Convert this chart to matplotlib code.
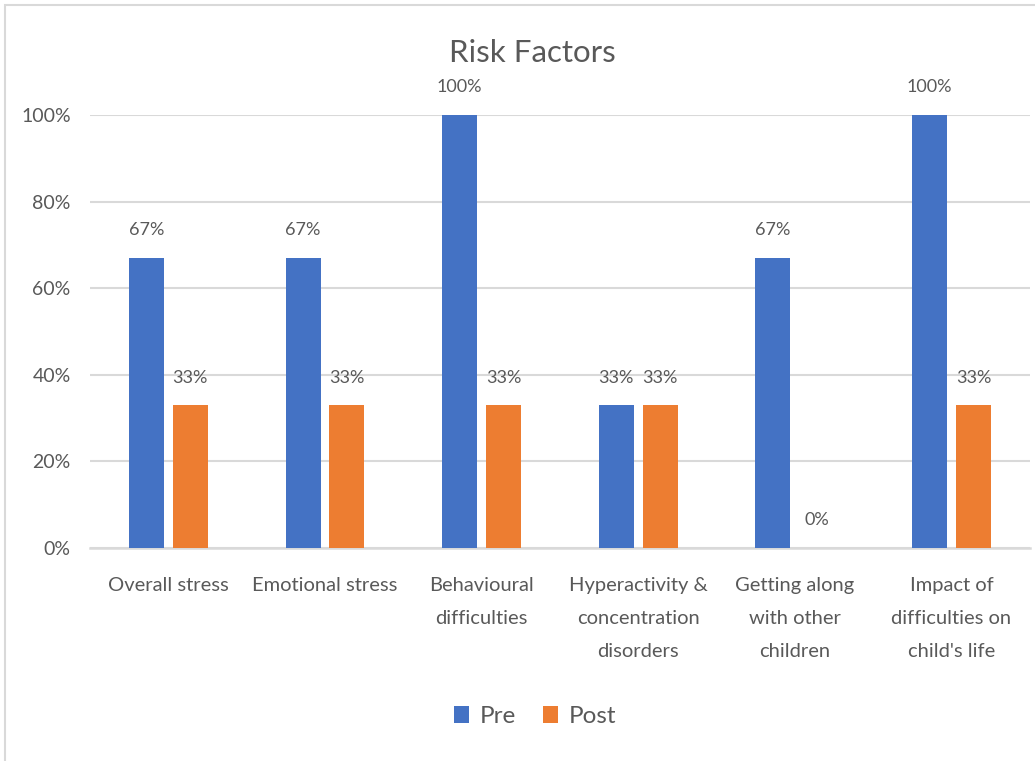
import numpy as np
import matplotlib.pyplot as plt
from matplotlib.patches import Rectangle

# ── Data ──────────────────────────────────────────────────────────
categories = [
    "Overall stress",
    "Emotional stress",
    "Behavioural\ndifficulties",
    "Hyperactivity &\nconcentration\ndisorders",
    "Getting along\nwith other\nchildren",
    "Impact of\ndifficulties on\nchild's life",
]
pre = [67, 67, 100, 33, 67, 100]
post = [33, 33, 33, 33, 0, 33]
yticks = [0, 20, 40, 60, 80, 100]

_BLUE = "#4472C4"
_ORANGE = "#ED7D31"
_TEXT = "#595959"
_GRID = "#D9D9D9"

plt.rcParams["font.family"] = ["Lato", "DejaVu Sans"]

fig = plt.figure(figsize=(10.35, 7.61), dpi=100, facecolor="white")
ax = fig.add_axes([0.087, 0.280, 0.908, 0.569])

x = np.arange(len(categories))
w = 0.223
off = 0.14
b1 = ax.bar(x - off, pre, w, color=_BLUE, label="Pre", zorder=3)
b2 = ax.bar(x + off, post, w, color=_ORANGE, label="Post", zorder=3)

for bars, vals in ((b1, pre), (b2, post)):
    for r, v in zip(bars, vals):
        ax.text(r.get_x() + r.get_width() / 2, v + 4.5, f"{v}%",
                ha="center", va="bottom", fontsize=13, color=_TEXT)

ax.set_xlim(-0.5, len(categories) - 0.5)
ax.set_ylim(0, 100)
ax.set_yticks(yticks)
ax.set_yticklabels([f"{t}%" for t in yticks], fontsize=14, color=_TEXT)
ax.set_xticks(x)
ax.set_xticklabels(categories, fontsize=14.5, color=_TEXT, linespacing=2.15,
                   va="top")
ax.tick_params(length=0, pad=14, axis="y")
ax.tick_params(length=0, pad=21, axis="x")
ax.grid(True, axis="y", color=_GRID, lw=1.5, zorder=0)
ax.set_axisbelow(True)
for s in ax.spines.values():
    s.set_visible(False)
ax.axhline(0, color=_GRID, lw=1.8, zorder=2, clip_on=False)

fig.text(0.514, 0.931, "Risk Factors", ha="center", va="center",
         fontsize=22.5, color=_TEXT)

ax.legend(loc="center", bbox_to_anchor=(0.517, 0.058), bbox_transform=fig.transFigure,
          ncol=2, frameon=False, fontsize=17.5, labelcolor=_TEXT,
          handlelength=0.62, handleheight=0.7, handletextpad=0.45,
          columnspacing=1.1)

# chart border (as in the screenshot)
fig.patches.append(Rectangle((0.005, -0.01), 1.2, 1.003, transform=fig.transFigure,
                             fill=False, edgecolor="#D9D9D9", lw=1.5))

fig.savefig("out.png", dpi=100, facecolor="white")
